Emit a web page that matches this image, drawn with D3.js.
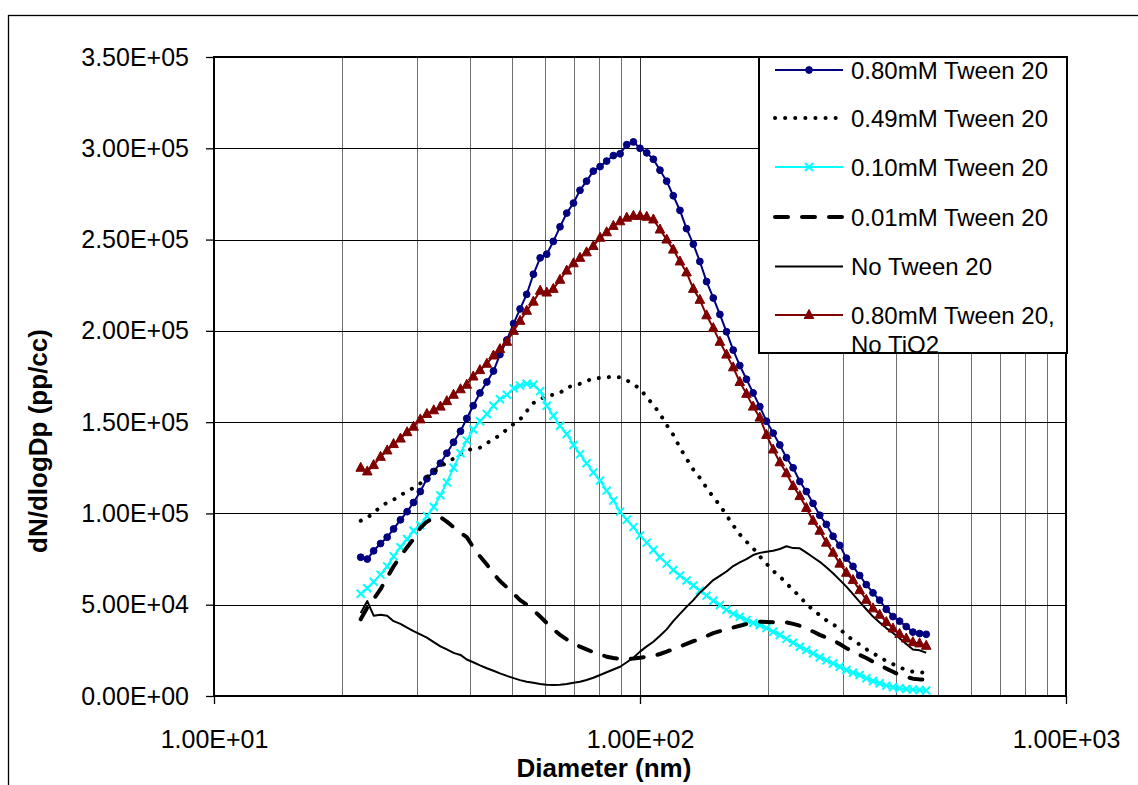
<!DOCTYPE html>
<html><head><meta charset="utf-8">
<script src="https://cdn.jsdelivr.net/npm/d3@7"></script>
<style>body{margin:0;background:#fff;} svg{display:block;}</style>
</head><body>
<svg id="chart" width="1138" height="785"></svg>
<script>
// ---------- DATA ----------
const diameters = [22.1, 22.9, 23.7, 24.6, 25.5, 26.4, 27.4, 28.4, 29.4, 30.5,
  31.6, 32.8, 34.0, 35.2, 36.5, 37.9, 39.2, 40.6, 42.1, 43.7,
  45.3, 46.9, 48.7, 50.5, 52.3, 54.2, 56.2, 58.3, 60.4, 62.6,
  64.9, 67.3, 69.8, 72.3, 74.9, 77.7, 80.6, 83.5, 86.6, 89.8,
  93.1, 96.5, 100.0, 103.7, 107.5, 111.4, 115.5, 119.7, 124.1, 128.6,
  133.4, 138.2, 143.3, 148.6, 154.0, 159.6, 165.5, 171.5, 177.8, 184.3,
  191.1, 198.1, 205.4, 212.9, 220.7, 228.8, 237.2, 245.8, 254.8, 264.2,
  273.8, 283.9, 294.3, 305.1, 316.2, 327.8, 339.8, 352.3, 365.2, 378.6,
  392.4, 406.8, 421.7, 437.1, 453.2, 469.8];

const seriesNames = ["0.80mM Tween 20", "0.49mM Tween 20", "0.10mM Tween 20",
  "0.01mM Tween 20", "No Tween 20", "0.80mM Tween 20, No TiO2"];

const tween080 = [76000, 75000, 79500, 83500, 87000, 91500, 96500, 101000, 106000, 112000,
  119000, 123000, 127500, 133000, 139000, 145000, 152000, 159000, 166000, 172000,
  178000, 187000, 195000, 204000, 212000, 220000, 231000, 240000, 242000, 249000,
  257000, 264500, 270000, 277000, 282000, 287500, 290000, 293000, 296000, 297000,
  302000, 303500, 300000, 297500, 294000, 288000, 282000, 274000, 266000, 256000,
  247500, 238000, 227000, 218000, 209000, 199500, 189500, 181000, 173500, 166000,
  158500, 150500, 144000, 137500, 130500, 125000, 117500, 112000, 105500, 99000,
  94000, 87500, 82500, 75500, 71000, 66000, 61000, 56500, 52500, 47500,
  43500, 41000, 38000, 35000, 34200, 33800];

const tween049 = [96000, 97500, 100500, 103500, 106000, 107500, 110000, 112000, 114000, 116500,
  120000, 123000, 125500, 128000, 130000, 132500, 134500, 135500, 136000, 138500,
  140500, 143000, 146000, 149000, 151500, 156000, 160500, 162500, 164500, 165000,
  166000, 169000, 170000, 171000, 172500, 174000, 174200, 174500, 175000, 174500,
  173000, 170500, 168500, 163500, 159500, 154500, 148500, 143000, 136000, 130000,
  124000, 119500, 114000, 109000, 104500, 99000, 93500, 88500, 84500, 81000,
  76500, 72500, 68500, 65500, 61700, 58000, 54500, 50300, 47200, 44300,
  41500, 39200, 36900, 33200, 30700, 28200, 25600, 23500, 21200, 19200,
  17500, 15700, 14300, 13300, 13000, 12800];

const tween010 = [56000, 59000, 62500, 66500, 71000, 76500, 81500, 86000, 90500, 93500,
  98500, 103500, 110000, 117000, 125000, 133000, 140000, 146000, 150500, 154500,
  159000, 162500, 165000, 168500, 170000, 171000, 170500, 167000, 159000, 153500,
  148000, 143500, 137500, 132500, 127500, 122500, 118000, 112500, 107000, 101000,
  96500, 92500, 88000, 84000, 80000, 76000, 72500, 69000, 66000, 63300,
  60500, 57700, 55000, 52200, 49800, 47200, 45000, 43400, 41600, 40000,
  38900, 37200, 35200, 33400, 31300, 29200, 27000, 25200, 23300, 21200,
  19500, 17800, 16000, 14200, 12700, 11500, 9700, 8200, 7000, 5700,
  4800, 4200, 3800, 3500, 3300, 3000];

const tween001 = [42000, 48500, 53000, 58500, 65000, 71000, 76500, 81500, 86000, 92000,
  95500, 97500, 98000, 95500, 92500, 89500, 87000, 81500, 76500, 72000,
  67000, 63000, 59500, 56000, 52500, 50000, 47000, 43500, 40000, 36500,
  33500, 31000, 29000, 27000, 25500, 24000, 23000, 21500, 20800, 20300,
  20100, 20500, 21000, 21500, 22000, 23000, 24300, 25700, 27200, 28500,
  30000, 31200, 32800, 34400, 35500, 36500, 37500, 38500, 39400, 40200,
  40700, 40600, 40400, 40300, 40300, 39500, 38500, 37100, 35300, 33500,
  32000, 30500, 28500, 26200, 24200, 22500, 20800, 18800, 17000, 15000,
  13300, 11500, 10500, 9500, 9100, 9100];

const noTween = [45500, 52000, 44000, 44500, 44000, 41000, 39500, 37500, 35500, 33800,
  32000, 29500, 27200, 25500, 23600, 22500, 20000, 18500, 16800, 15200,
  13800, 12400, 11000, 9800, 8700, 7800, 7200, 6600, 6200, 6000,
  6200, 6600, 7200, 7800, 8800, 10000, 11500, 13000, 14500, 16000,
  18500, 21000, 24300, 27200, 29700, 33000, 36500, 41000, 45000, 48800,
  52500, 56600, 60000, 63500, 65800, 68200, 71200, 73200, 75000, 77200,
  78400, 79000, 79600, 80500, 82000, 81000, 80900, 78500, 76000, 73500,
  70500, 67200, 63600, 59900, 55800, 51600, 47500, 43500, 40300, 37200,
  34500, 31600, 28500, 25500, 25000, 23700];

const tween080NoTiO2 = [125000, 123000, 126500, 131000, 134500, 138000, 141000, 144500, 147500, 151500,
  154500, 156500, 158500, 161500, 165000, 168000, 170500, 175000, 178500, 182000,
  186500, 190000, 194000, 200000, 205500, 211000, 216000, 222000, 221000, 223000,
  228000, 233000, 237000, 240000, 243000, 246500, 251000, 254000, 257500, 260000,
  262000, 263000, 263000, 262500, 261000, 255500, 250000, 244500, 238000, 232000,
  223000, 217000, 208500, 201500, 194000, 187000, 180000, 172000, 165500, 158500,
  152500, 143000, 135000, 128000, 122000, 115000, 109500, 103000, 96000, 90500,
  84000, 78500, 72500, 67500, 63500, 58000, 52700, 48000, 44500, 40500,
  37000, 34000, 31500, 29500, 28800, 27500];

const yTickValues = [0, 50000, 100000, 150000, 200000, 250000, 300000, 350000];
const yTickLabels = ["0.00E+00", "5.00E+04", "1.00E+05", "1.50E+05", "2.00E+05", "2.50E+05", "3.00E+05", "3.50E+05"];
const xTickValues = [10, 100, 1000];
const xTickLabels = ["1.00E+01", "1.00E+02", "1.00E+03"];
const xMinorValues = [20, 30, 40, 50, 60, 70, 80, 90, 200, 300, 400, 500, 600, 700, 800, 900];
const xTitle = "Diameter (nm)";
const yTitle = "dN/dlogDp (pp/cc)";

// ---------- LAYOUT ----------
const FONT = "'Liberation Sans', Arial, sans-serif";
const svg = d3.select("#chart");
const L = 214, R = 1066, T = 57, B = 696;
const x = d3.scaleLog().domain([10, 1000]).range([L, R]);
const y = d3.scaleLinear().domain([0, 350000]).range([B, T]);

svg.append("rect").attr("width", 1138).attr("height", 785).attr("fill", "#fff");
// outer chart frame
svg.append("rect").attr("x", 8.5).attr("y", 15.5).attr("width", 1300).attr("height", 1000)
  .attr("fill", "none").attr("stroke", "#000").attr("stroke-width", 1.3);

// gridlines
const g = svg.append("g");
g.selectAll("line.vminor").data(xMinorValues).join("line")
  .attr("x1", d => Math.round(x(d)) + 0.5).attr("x2", d => Math.round(x(d)) + 0.5)
  .attr("y1", T).attr("y2", B).attr("stroke", "#6e6e6e").attr("stroke-width", 1);
g.selectAll("line.vmajor").data([100]).join("line")
  .attr("x1", d => Math.round(x(d)) + 0.5).attr("x2", d => Math.round(x(d)) + 0.5)
  .attr("y1", T).attr("y2", B).attr("stroke", "#333").attr("stroke-width", 1);
g.selectAll("line.h").data(yTickValues.slice(1, -1)).join("line")
  .attr("x1", L).attr("x2", R)
  .attr("y1", d => Math.round(y(d)) + 0.5).attr("y2", d => Math.round(y(d)) + 0.5)
  .attr("stroke", "#000").attr("stroke-width", 1);

// axes
const yAxis = d3.axisLeft(y).tickValues(yTickValues).tickSize(8).tickPadding(17)
  .tickFormat((d, i) => yTickLabels[i]);
const ya = svg.append("g").attr("transform", `translate(${L},0)`).call(yAxis);
const xAxis = d3.axisBottom(x).tickValues(xTickValues).tickSize(8).tickPadding(26)
  .tickFormat((d, i) => xTickLabels[i]);
const xa = svg.append("g").attr("transform", `translate(0,${B})`).call(xAxis);
[ya, xa].forEach(a => {
  a.select(".domain").remove();
  a.selectAll("line").attr("stroke", "#000").attr("stroke-width", 1.3);
  a.selectAll("text").attr("font-family", FONT).attr("font-size", 25).attr("fill", "#000");
});

// series
const pts = arr => arr.map((v, i) => [diameters[i], v]);
const line = d3.line().x(d => x(d[0])).y(d => y(d[1]));
const plot = svg.append("g");
const circlePath = "M3.4,0A3.4,3.4 0 1,1 -3.4,0A3.4,3.4 0 1,1 3.4,0Z";
const crossPath = "M-4,-4L4,4M-4,4L4,-4";
const triPath = "M0,-5.5L4.8,3.5L-4.8,3.5Z";

const styles = [
  {data: tween080, color: "#000080", width: 2, dash: null, cap: "butt", marker: circlePath, mfill: "#000080", mstroke: "#000080", msw: 1},
  {data: tween049, color: "#000", width: 4, dash: "0.1,10", cap: "round", marker: null},
  {data: tween010, color: "#00FFFF", width: 2, dash: null, cap: "butt", marker: crossPath, mfill: "none", mstroke: "#00FFFF", msw: 2},
  {data: tween001, color: "#000", width: 4, dash: "13,14", cap: "round", marker: null},
  {data: noTween, color: "#000", width: 2, dash: null, cap: "butt", marker: null},
  {data: tween080NoTiO2, color: "#800000", width: 2, dash: null, cap: "butt", marker: triPath, mfill: "#800000", mstroke: "#800000", msw: 1}
];

styles.forEach(s => {
  const p = pts(s.data);
  plot.append("path").attr("d", line(p)).attr("fill", "none")
    .attr("stroke", s.color).attr("stroke-width", s.width)
    .attr("stroke-dasharray", s.dash).attr("stroke-linecap", s.cap)
    .attr("stroke-linejoin", "round");
  if (s.marker) {
    plot.append("g").selectAll("path").data(p).join("path")
      .attr("transform", d => `translate(${x(d[0])},${y(d[1])})`)
      .attr("d", s.marker).attr("fill", s.mfill).attr("stroke", s.mstroke).attr("stroke-width", s.msw);
  }
});

// plot area border
svg.append("rect").attr("x", L).attr("y", T).attr("width", R - L).attr("height", B - T)
  .attr("fill", "none").attr("stroke", "#000").attr("stroke-width", 2);

// legend
const lg = svg.append("g");
lg.append("rect").attr("x", 759).attr("y", 57).attr("width", 308).attr("height", 296)
  .attr("fill", "#fff").attr("stroke", "none");
const legendRows = [70, 118, 167, 217, 266.5, 315];
styles.forEach((s, i) => {
  const cy = legendRows[i];
  lg.append("line").attr("x1", 775).attr("x2", 843).attr("y1", cy).attr("y2", cy)
    .attr("stroke", s.color).attr("stroke-width", s.width)
    .attr("stroke-dasharray", s.dash).attr("stroke-linecap", s.cap);
  if (s.marker) {
    lg.append("path").attr("transform", `translate(809,${cy})`).attr("d", s.marker)
      .attr("fill", s.mfill).attr("stroke", s.mstroke).attr("stroke-width", s.msw);
  }
  const name = seriesNames[i];
  const parts = name.indexOf(", ") > 0 ? [name.split(", ")[0] + ",", name.split(", ")[1]] : [name];
  parts.forEach((t, j) => {
    lg.append("text").attr("x", 851).attr("y", cy + 8.7 + j * 29).text(t)
      .attr("font-family", FONT).attr("font-size", 24).attr("fill", "#000");
  });
});
lg.append("rect").attr("x", 759).attr("y", 57).attr("width", 308).attr("height", 296)
  .attr("fill", "none").attr("stroke", "#000").attr("stroke-width", 2);

// axis titles
svg.append("text").attr("x", 604).attr("y", 777).attr("text-anchor", "middle")
  .attr("font-family", FONT).attr("font-weight", "bold").attr("font-size", 26).text(xTitle);
svg.append("text").attr("transform", "translate(47,441) rotate(-90)").attr("text-anchor", "middle")
  .attr("font-family", FONT).attr("font-weight", "bold").attr("font-size", 26).text(yTitle);
</script>
</body></html>
